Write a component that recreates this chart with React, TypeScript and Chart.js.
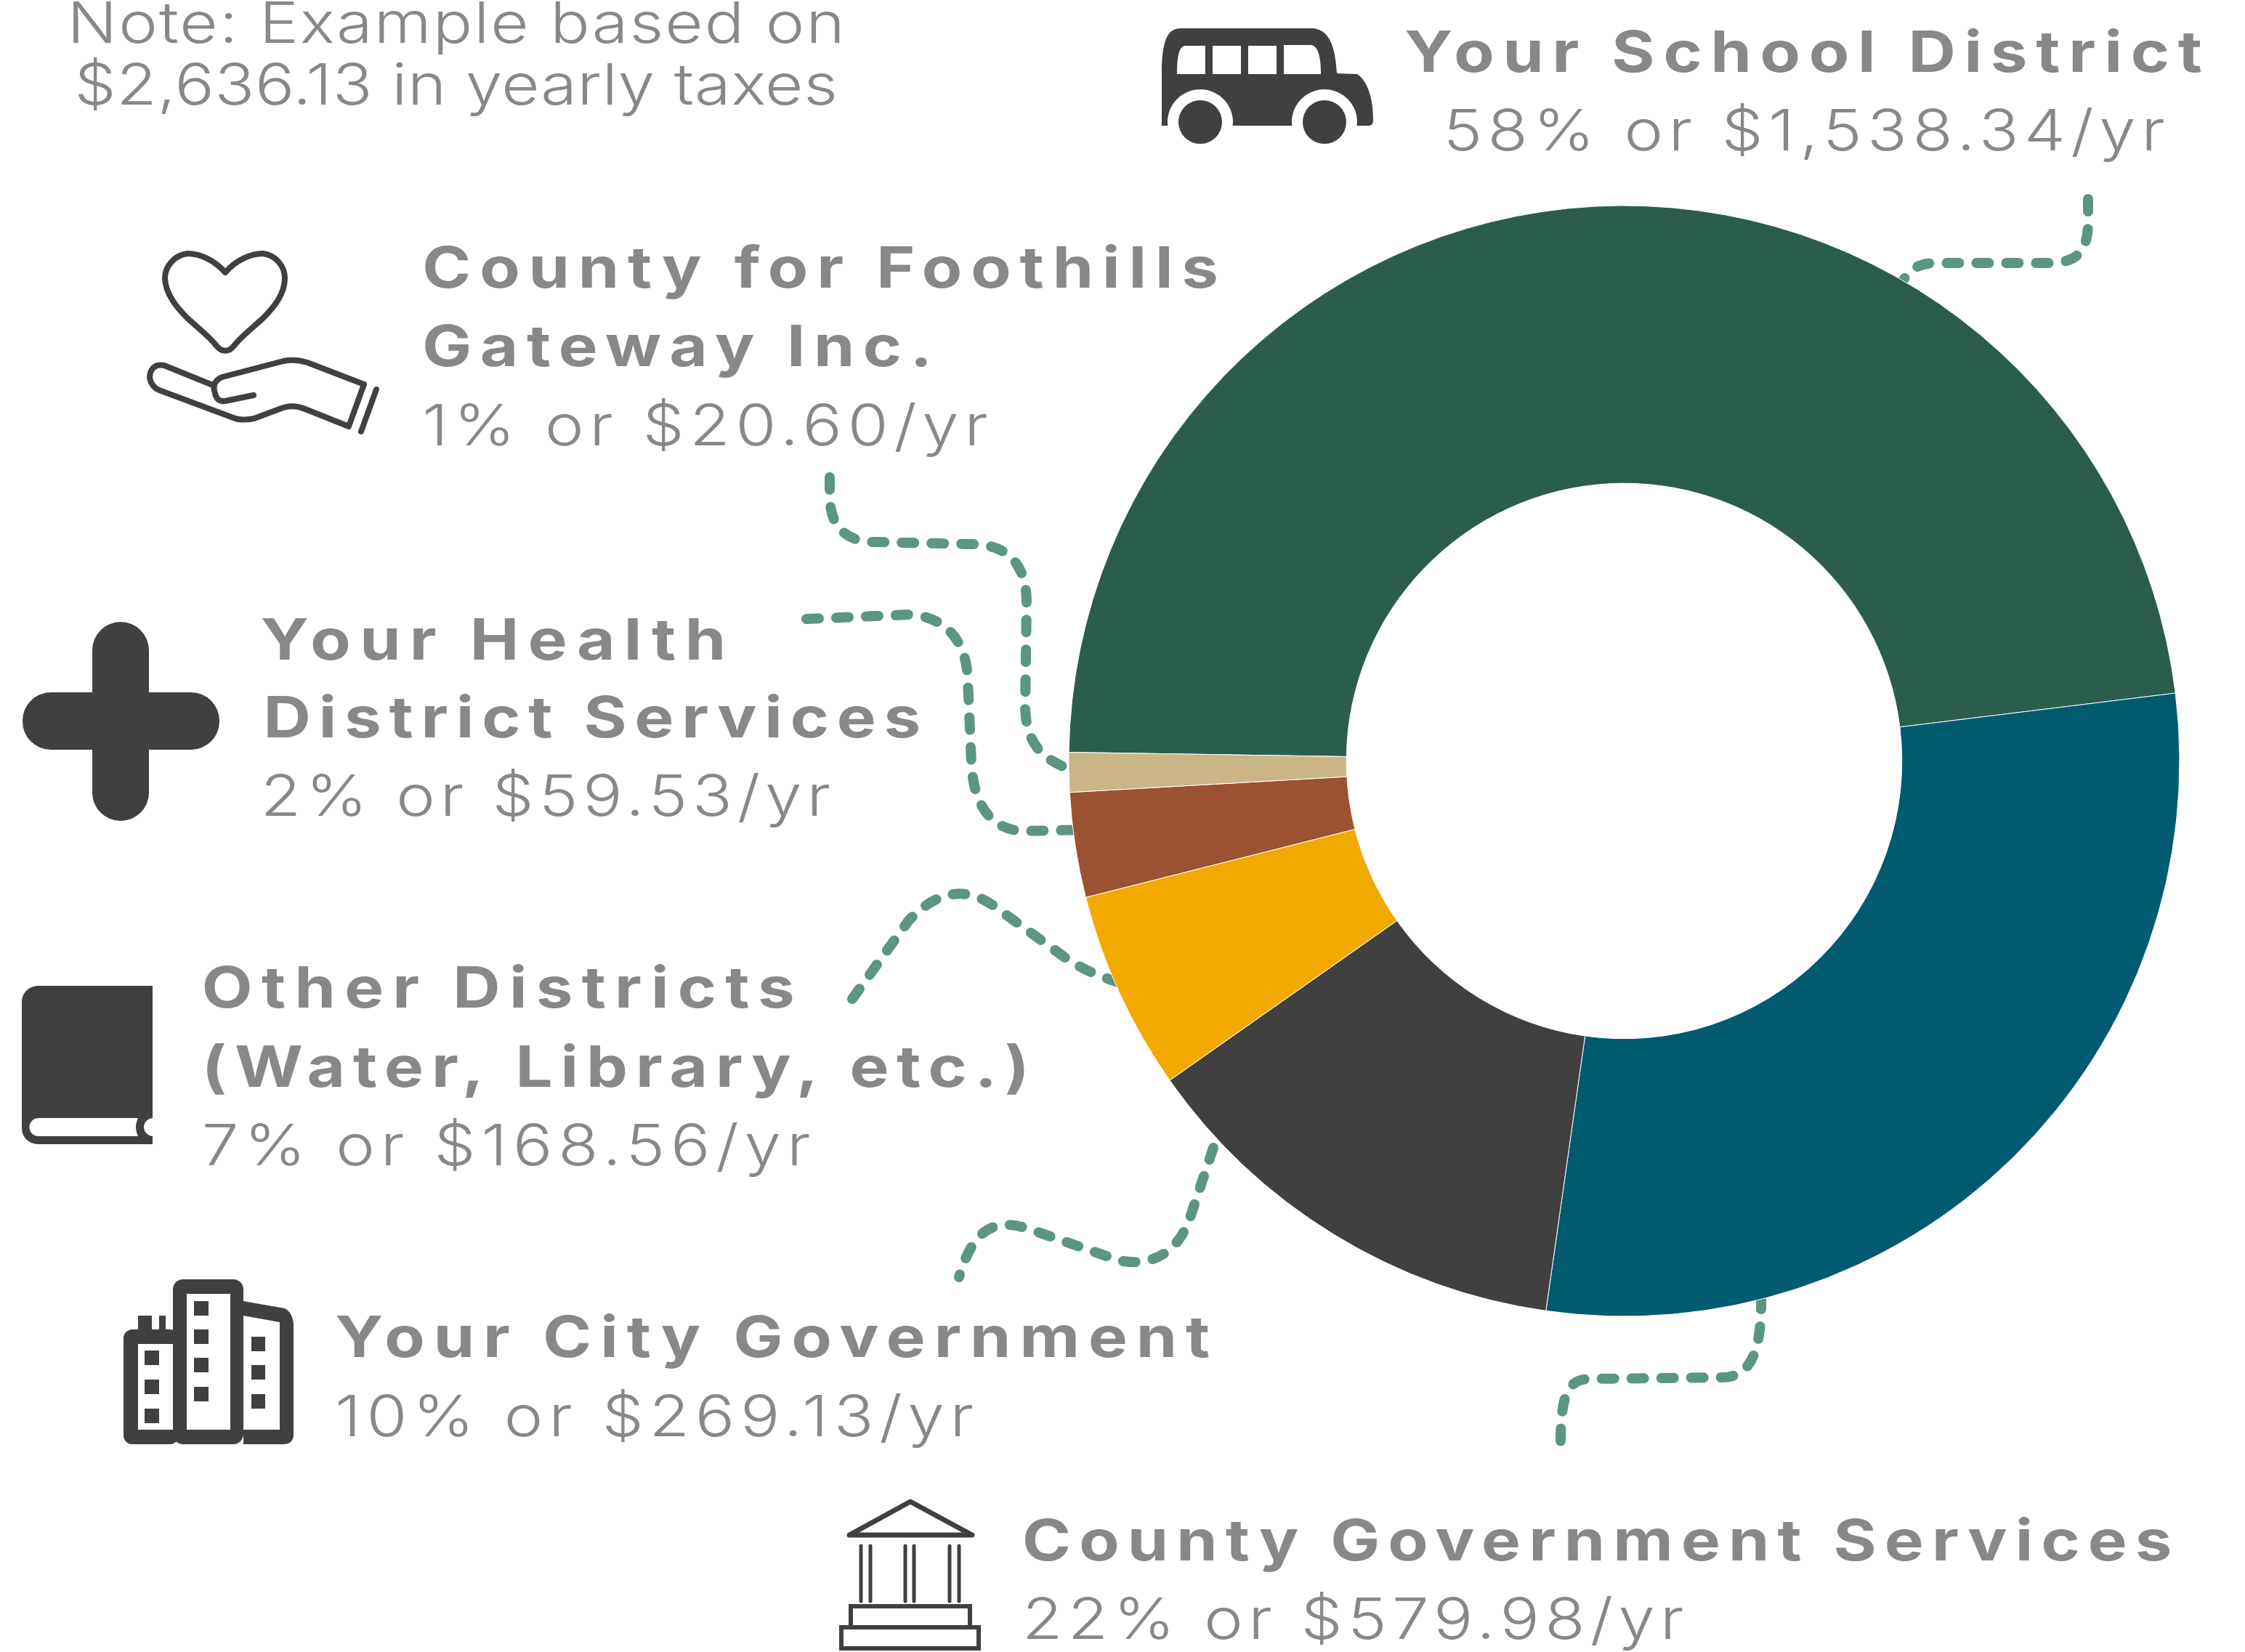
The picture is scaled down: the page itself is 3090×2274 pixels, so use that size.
import React, { useEffect, useRef } from "react";
import { Chart, registerables } from "chart.js";

Chart.register(...registerables);

// ---- data ----
const categories = [
  "Your School District",
  "County Government Services",
  "Your City Government",
  "Other Districts (Water, Library, etc.)",
  "Your Health District Services",
  "County for Foothills Gateway Inc.",
];
const sliceShares = [47.8, 29.2, 13.0, 5.8, 3.05, 1.15];
const sliceColors = ["#2a5d4c", "#005a70", "#404040", "#f2a900", "#9c5130", "#cbb585"];

const noteLines = ["Note: Example based on", "$2,636.13 in yearly taxes"];
const schoolLines = ["Your School District", "58% or $1,538.34/yr"];
const footLines = ["County for Foothills", "Gateway Inc.", "1% or $20.60/yr"];
const healthLines = ["Your Health", "District Services", "2% or $59.53/yr"];
const otherLines = ["Other Districts", "(Water, Library, etc.)", "7% or $168.56/yr"];
const cityLines = ["Your City Government", "10% or $269.13/yr"];
const countyLines = ["County Government Services", "22% or $579.98/yr"];

// ---- layout (reference pixels) ----
const W = 3090;
const H = 2274;
const CX = 2235.5;
const CY = 1047.5;
const R = 765;
const S = 3090 / 1568;
const FONT = "Inter, 'Open Sans', sans-serif";
const TEXT = "#888888";
const ICON = "#404040";
const STRETCH = 1.16;

type Row = { t: string; x0: number; x1: number; y: number; b: boolean };
const rows: Row[] = [
  { t: noteLines[0], x0: 47, x1: 590, y: 30, b: false },
  { t: noteLines[1], x0: 52, x1: 585, y: 73, b: false },
  { t: schoolLines[0], x0: 981, x1: 1538, y: 50, b: true },
  { t: schoolLines[1], x0: 1008, x1: 1512, y: 105, b: false },
  { t: footLines[0], x0: 295, x1: 851, y: 201, b: true },
  { t: footLines[1], x0: 295, x1: 651, y: 256, b: true },
  { t: footLines[2], x0: 295, x1: 690, y: 311, b: false },
  { t: healthLines[0], x0: 182, x1: 507, y: 461, b: true },
  { t: healthLines[1], x0: 184, x1: 643, y: 515, b: true },
  { t: healthLines[2], x0: 182, x1: 580, y: 570, b: false },
  { t: otherLines[0], x0: 141, x1: 555, y: 704, b: true },
  { t: otherLines[1], x0: 141, x1: 719, y: 759, b: true },
  { t: otherLines[2], x0: 141, x1: 566, y: 814, b: false },
  { t: cityLines[0], x0: 234, x1: 845, y: 948, b: true },
  { t: cityLines[1], x0: 234, x1: 680, y: 1003, b: false },
  { t: countyLines[0], x0: 714, x1: 1517, y: 1090, b: true },
  { t: countyLines[1], x0: 714, x1: 1176, y: 1145, b: false },
];

const connectors = [
  "M2874,274 L2874,305 C2874,345 2860,362 2820,362 L2665,362 C2640,362 2630,370 2615,392",
  "M1142,657 L1142,685 C1143,725 1165,745 1200,746 L1340,749 C1390,750 1413,780 1413,830 L1411,975 C1413,1025 1435,1045 1475,1060",
  "M1110,852 L1250,846 C1300,848 1330,880 1332,935 L1337,1050 C1340,1110 1365,1143 1410,1144 L1495,1142",
  "M1173,1375 L1250,1268 C1290,1225 1330,1220 1368,1247 L1463,1316 C1490,1335 1515,1345 1555,1357",
  "M1670,1580 L1640,1670 C1625,1720 1590,1745 1540,1735 L1420,1693 C1370,1675 1340,1690 1320,1758",
  "M2424,1785 C2425,1860 2410,1896 2370,1896 L2190,1898 C2160,1898 2148,1915 2148,1987",
];

function rr(ctx: CanvasRenderingContext2D, x0: number, y0: number, x1: number, y1: number, r: any) {
  ctx.beginPath();
  ctx.roundRect(x0, y0, x1 - x0, y1 - y0, r);
  ctx.fill();
}

function drawIcons(ctx: CanvasRenderingContext2D) {
  ctx.save();
  ctx.fillStyle = ICON;
  ctx.strokeStyle = ICON;
  ctx.lineJoin = "round";
  ctx.lineCap = "round";

  // bus
  ctx.fill(new Path2D("M1599,173 L1599,95 C1600,60 1605,39 1625,39 L1805,39 C1830,39 1838,65 1840,101 L1868,102 C1880,110 1890,130 1890,165 C1890,171 1888,173 1882,173 Z"));
  ctx.fillStyle = "#ffffff";
  ctx.fill(new Path2D("M1620,102 C1620,80 1622,63 1632,63 L1659,63 L1659,102 Z"));
  ctx.fillRect(1669, 63, 39, 39);
  ctx.fillRect(1718, 63, 39, 39);
  ctx.fill(new Path2D("M1767,62 L1805,62 C1815,64 1818,80 1818,102 L1767,102 Z"));
  [1652, 1823].forEach((x) => {
    ctx.fillStyle = "#ffffff";
    ctx.beginPath();
    ctx.arc(x, 168, 45, 0, Math.PI * 2);
    ctx.fill();
    ctx.fillStyle = ICON;
    ctx.beginPath();
    ctx.arc(x, 168, 30, 0, Math.PI * 2);
    ctx.fill();
  });

  // heart in hand
  ctx.lineWidth = 8;
  ctx.stroke(new Path2D("M310,375 C295,358 275,349 258,349 C240,351 227,367 227,383 C228,405 243,423 258,438 C272,451 288,463 298,476 C305,485 315,485 322,476 C332,463 348,451 362,438 C377,423 392,405 392,383 C392,367 380,351 362,349 C345,349 325,358 310,375 Z"));
  ctx.stroke(new Path2D("M295,531 L226,503 C212,500 206,510 206,520 C208,530 214,535 219,537 L321,575 C330,579 340,578 350,576 L390,561 C400,558 410,559 420,563 L480,587 L501,529 L423,499 C410,495 400,495 390,497 L306,519 C296,523 292,531 296,541 C297,549 302,553 310,552 L349,544"));
  ctx.stroke(new Path2D("M518,536 L497,594"));

  // cross
  rr(ctx, 127, 856, 205, 1130, 39);
  rr(ctx, 31, 953, 302, 1032, 39);

  // book
  rr(ctx, 30, 1357, 210, 1575, [22, 0, 0, 22]);
  ctx.fillStyle = "#ffffff";
  ctx.fill(new Path2D("M54,1539 L190,1539 C186,1548 186,1555 190,1564 L54,1564 C36,1564 36,1539 54,1539 Z"));
  ctx.fill(new Path2D("M210,1539 C194,1541 194,1562 210,1564 Z"));
  ctx.fillStyle = ICON;

  // buildings
  rr(ctx, 170, 1830, 246, 1988, 12);
  rr(ctx, 238, 1761, 335, 1988, 14);
  ctx.fill(new Path2D("M335,1791 L392,1801 C400,1805 404,1815 404,1825 L404,1975 C404,1984 398,1988 390,1988 L335,1988 Z"));
  ctx.fillRect(190, 1811, 19, 25);
  ctx.fillRect(219, 1811, 9, 25);
  ctx.fillStyle = "#ffffff";
  ctx.fillRect(190, 1850, 48, 118);
  ctx.fillRect(257, 1781, 60, 187);
  ctx.fill(new Path2D("M335,1811 L385,1820 L385,1968 L335,1968 Z"));
  ctx.fillStyle = ICON;
  [1859, 1899, 1939].forEach((y) => ctx.fillRect(199, y, 20, 20));
  [1791, 1830, 1869, 1909].forEach((y) => ctx.fillRect(267, y, 20, 20));
  [1840, 1879, 1919].forEach((y) => ctx.fillRect(346, y, 19, 20));

  // courthouse
  ctx.lineWidth = 7;
  ctx.stroke(new Path2D("M1253,2067 L1338,2113 L1169,2113 Z"));
  ctx.lineWidth = 5;
  [1185, 1198, 1246, 1258, 1307, 1320].forEach((x) => {
    ctx.beginPath();
    ctx.moveTo(x, 2128);
    ctx.lineTo(x, 2204);
    ctx.stroke();
  });
  ctx.lineWidth = 6;
  ctx.lineJoin = "miter";
  ctx.strokeRect(1171, 2211, 164, 29);
  ctx.strokeRect(1158, 2240, 189, 29);
  ctx.restore();
}

const decorations = {
  id: "decorations",
  beforeDatasetsDraw(chart: Chart) {
    const ctx = chart.ctx;
    ctx.save();
    ctx.strokeStyle = "#5a9682";
    ctx.lineWidth = 14;
    ctx.lineCap = "round";
    ctx.lineJoin = "round";
    ctx.setLineDash([17, 24]);
    connectors.forEach((d) => ctx.stroke(new Path2D(d)));
    ctx.restore();
  },
  afterDraw(chart: Chart) {
    const ctx = chart.ctx as any;
    drawIcons(ctx);
    ctx.save();
    ctx.fillStyle = TEXT;
    ctx.textAlign = "left";
    ctx.textBaseline = "alphabetic";
    rows.forEach((r) => {
      ctx.font = `${r.b ? 700 : 300} 78px ${FONT}`;
      ctx.letterSpacing = "0px";
      const w = ctx.measureText(r.t).width;
      const target = ((r.x1 - r.x0) * S) / STRETCH;
      ctx.letterSpacing = `${(target - w) / Math.max(1, r.t.length - 1)}px`;
      ctx.save();
      ctx.translate(r.x0 * S, r.y * S);
      ctx.scale(STRETCH, 1);
      ctx.fillText(r.t, 0, 0);
      ctx.restore();
    });
    ctx.restore();
  },
};

export default function App() {
  const ref = useRef<HTMLCanvasElement | null>(null);
  useEffect(() => {
    if (!ref.current) return;
    const chart = new Chart(ref.current, {
      type: "doughnut",
      data: {
        labels: categories,
        datasets: [
          {
            data: sliceShares,
            backgroundColor: sliceColors,
            borderColor: "#ffffff",
            borderWidth: 1,
            hoverOffset: 0,
          },
        ],
      },
      options: {
        responsive: false,
        animation: false,
        devicePixelRatio: 1,
        cutout: "50%",
        rotation: 270.9,
        layout: {
          padding: {
            left: CX - R,
            right: W - CX - R,
            top: CY - R,
            bottom: H - CY - R,
          },
        },
        plugins: { legend: { display: false }, tooltip: { enabled: false }, title: { display: false } },
      },
      plugins: [decorations],
    } as any);
    return () => chart.destroy();
  }, []);
  return (
    <div style={{ position: "absolute", left: 0, top: 0, width: W, height: H, background: "#ffffff" }}>
      <canvas ref={ref} width={W} height={H} style={{ display: "block", width: W, height: H }} />
    </div>
  );
}
